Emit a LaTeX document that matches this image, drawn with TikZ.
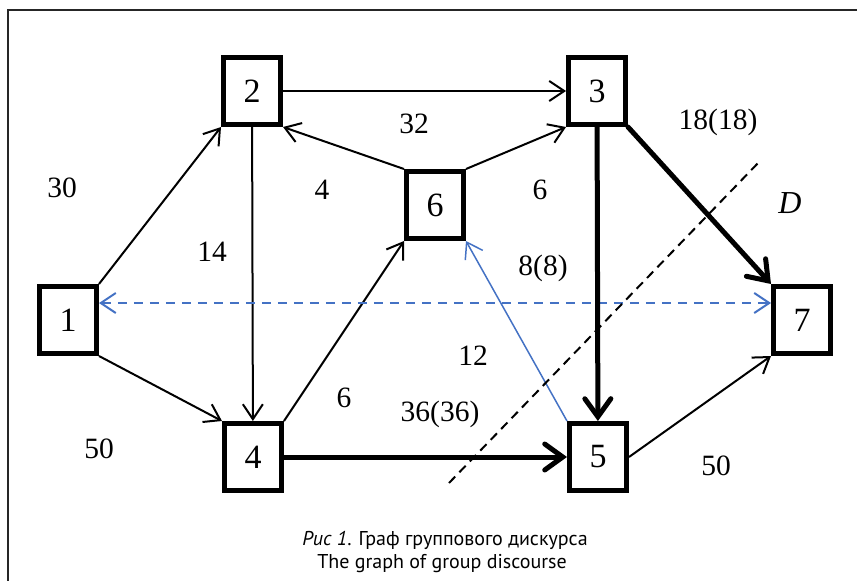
\documentclass[tikz,border=0pt]{standalone}
\usepackage{fontspec}
\setmainfont{Liberation Serif}
\newfontfamily\capfont{PT Sans}
\usetikzlibrary{arrows.meta}
\definecolor{linkblue}{RGB}{68,114,196}
\tikzset{
  vbox/.style={draw,line width=5pt,minimum width=57pt,minimum height=67pt,inner sep=0pt,font=\fontsize{34}{34}\selectfont},
  thinarr/.style={line width=2pt,-{Straight Barb[length=15pt,width=20pt]}},
  thickarr/.style={line width=5pt,line cap=round,-{Straight Barb[length=18pt,width=26pt,line cap=round]}},
  wlabel/.style={font=\fontsize{29.5}{29.5}\selectfont,inner sep=0pt}
}
\begin{document}
\begin{tikzpicture}[x=1pt,y=-1pt]
  \useasboundingbox (0,0) rectangle (857,581);
  \draw[line width=2pt,black!85] (8,600) -- (8,10) -- (880,10);
  \node[vbox] (n1) at (68,320) {1};
  \node[vbox] (n2) at (252,91) {2};
  \node[vbox] (n3) at (597,91) {3};
  \node[vbox] (n4) at (253,457) {4};
  \node[vbox] (n5) at (598,457) {5};
  \node[vbox] (n6) at (435,205) {6};
  \node[vbox] (n7) at (802,320) {7};
  \draw[thinarr] (n1.north east) -- (n2.south west);
  \draw[thinarr] (n1.south east) -- (n4.north west);
  \draw[thinarr] (n2) -- (n3);
  \draw[thinarr] (n2) -- (n4);
  \draw[thinarr] (n6.north west) -- (n2.south east);
  \draw[thinarr] (n6.north east) -- (n3.south west);
  \draw[thinarr] (n4.north east) -- (n6.south west);
  \draw[thinarr] (n5.east) -- (n7.south west);
  \draw[line width=1.5pt,linkblue,-{Straight Barb[length=15pt,width=20pt]}] (n5.north west) -- (n6.south east);
  \draw[line width=2pt,linkblue,dash pattern=on 9pt off 7pt,{Straight Barb[length=15pt,width=20pt]}-{Straight Barb[length=15pt,width=20pt]}]
    ([yshift=17pt]n1.east) -- ([yshift=17pt]n7.west);
  \draw[thickarr] (n3) -- (n5);
  \draw[thickarr] (n3.south east) -- (n7.north west);
  \draw[thickarr] (n4) -- (n5);
  \coordinate (d1) at (449,483);
  \coordinate (d2) at (760,161);
  \draw[line width=2pt,dash pattern=on 9pt off 6pt] (d1) -- (d2);
  \node[wlabel] (w12) at (62,188) {30};
  \node[wlabel] (w14) at (99,449) {50};
  \node[wlabel] (w24) at (212,252) {14};
  \node[wlabel] (w23) at (414,124) {32};
  \node[wlabel] (w62) at (322,190) {4};
  \node[wlabel] (w63) at (540,190) {6};
  \node[wlabel] (w35) at (543,268) {8(8)};
  \node[wlabel] (w56) at (473,356) {12};
  \node[wlabel] (w46) at (344,398) {6};
  \node[wlabel] (w45) at (440,414) {36(36)};
  \node[wlabel] (w57) at (716,466) {50};
  \node[wlabel] (w37) at (718,122) {18(18)};
  \node[wlabel,font=\fontsize{32}{32}\selectfont\itshape] (cut) at (790,203) {D};
  \node[font=\capfont\fontsize{20}{20}\selectfont] (cap1) at (445,540) {\textit{Рис 1}. Граф группового дискурса};
  \node[font=\capfont\fontsize{20}{20}\selectfont] (cap2) at (442,564) {The graph of group discourse};
\end{tikzpicture}
\end{document}
